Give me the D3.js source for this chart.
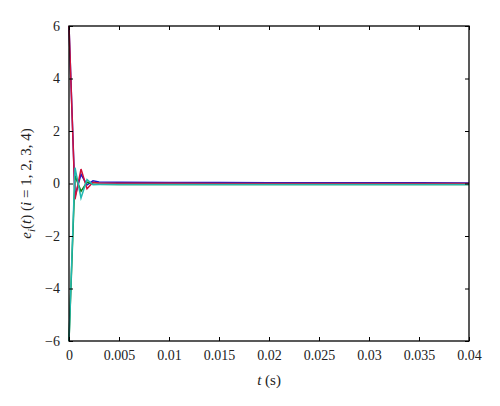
<!DOCTYPE html>
<html>
<head>
<meta charset="utf-8">
<script src="https://cdn.jsdelivr.net/npm/d3@7"></script>
<style>
  body { margin: 0; background: #fff; }
  text { font-family: "Liberation Serif", "DejaVu Serif", serif; }
</style>
</head>
<body>
<div id="chart"></div>
<script>
// time samples (s)
const time = [0, 0.0006, 0.0012, 0.0018, 0.0024, 0.003, 0.005, 0.01, 0.015, 0.02, 0.025, 0.03, 0.035, 0.04];
// error series e_i(t)
const e1 = [6, -0.5, 0.35, -0.05, 0.1, 0.06, 0.05, 0.04, 0.035, 0.03, 0.03, 0.025, 0.025, 0.02];
const e2 = [-6, 0.3, -0.3, 0.05, -0.02, -0.03, -0.04, -0.04, -0.04, -0.04, -0.04, -0.04, -0.04, -0.04];
const e3 = [6, -0.6, 0.55, -0.2, 0.05, 0.02, 0.01, 0.01, 0.0, 0.0, 0.0, 0.0, 0.0, 0.0];
const e4 = [-6, 0.6, -0.55, 0.15, -0.05, -0.04, -0.04, -0.04, -0.04, -0.04, -0.04, -0.04, -0.04, -0.04];
const seriesColors = ["#1a1acc", "#107a10", "#d0103a", "#20b8b0"];
const xTicks = [0, 0.005, 0.01, 0.015, 0.02, 0.025, 0.03, 0.035, 0.04];
const yTicks = [-6, -4, -2, 0, 2, 4, 6];

const W = 500, H = 406;
const margin = { top: 26, right: 31, bottom: 65, left: 69 };
const width = W - margin.left - margin.right;
const height = H - margin.top - margin.bottom;

const svg = d3.select("#chart").append("svg")
  .attr("width", W)
  .attr("height", H);

const g = svg.append("g")
  .attr("transform", `translate(${margin.left},${margin.top})`);

const x = d3.scaleLinear().domain([0, 0.04]).range([0, width]);
const y = d3.scaleLinear().domain([-6, 6]).range([height, 0]);

// lines
const line = d3.line()
  .x((d, i) => x(time[i]))
  .y(d => y(d));

[e1, e2, e3, e4].forEach((s, i) => {
  g.append("path")
    .datum(s)
    .attr("fill", "none")
    .attr("stroke", seriesColors[i])
    .attr("stroke-width", 1.5)
    .attr("d", line);
});

// axes with inward ticks
const fmt = d => (d === 0 ? "0" : d3.format("")(d).replace("-", "\u2212"));

const xAxis = g.append("g")
  .attr("transform", `translate(0,${height})`)
  .call(d3.axisBottom(x).tickValues(xTicks).tickSize(-4).tickPadding(9).tickFormat(fmt));
g.append("g")
  .call(d3.axisTop(x).tickValues(xTicks).tickSize(-4).tickFormat(""));
const yAxis = g.append("g")
  .call(d3.axisLeft(y).tickValues(yTicks).tickSize(-4).tickPadding(9).tickFormat(fmt));
g.append("g")
  .attr("transform", `translate(${width},0)`)
  .call(d3.axisRight(y).tickValues(yTicks).tickSize(-4).tickFormat(""));

g.selectAll(".domain").remove();
g.selectAll(".tick line").attr("stroke", "#000").attr("stroke-width", 1);
g.selectAll(".tick text")
  .attr("font-family", "Liberation Serif, DejaVu Serif, serif")
  .attr("font-size", 14)
  .attr("fill", "#222");

// frame
g.append("rect")
  .attr("width", width)
  .attr("height", height)
  .attr("fill", "none")
  .attr("stroke", "#000")
  .attr("stroke-width", 1.3);

// x label
svg.append("text")
  .attr("x", margin.left + width / 2)
  .attr("y", 385)
  .attr("text-anchor", "middle")
  .attr("font-size", 15)
  .attr("fill", "#222")
  .html('<tspan font-style="italic">t</tspan> (s)');

// y label
svg.append("text")
  .attr("transform", `translate(31,${margin.top + height / 2}) rotate(-90)`)
  .attr("text-anchor", "middle")
  .attr("font-size", 15)
  .attr("fill", "#222")
  .html('<tspan font-style="italic">e</tspan><tspan font-style="italic" font-size="11" dy="4">i</tspan><tspan dy="-4">(</tspan><tspan font-style="italic">t</tspan>) (<tspan font-style="italic">i</tspan> = 1, 2, 3, 4)');
</script>
</body>
</html>
